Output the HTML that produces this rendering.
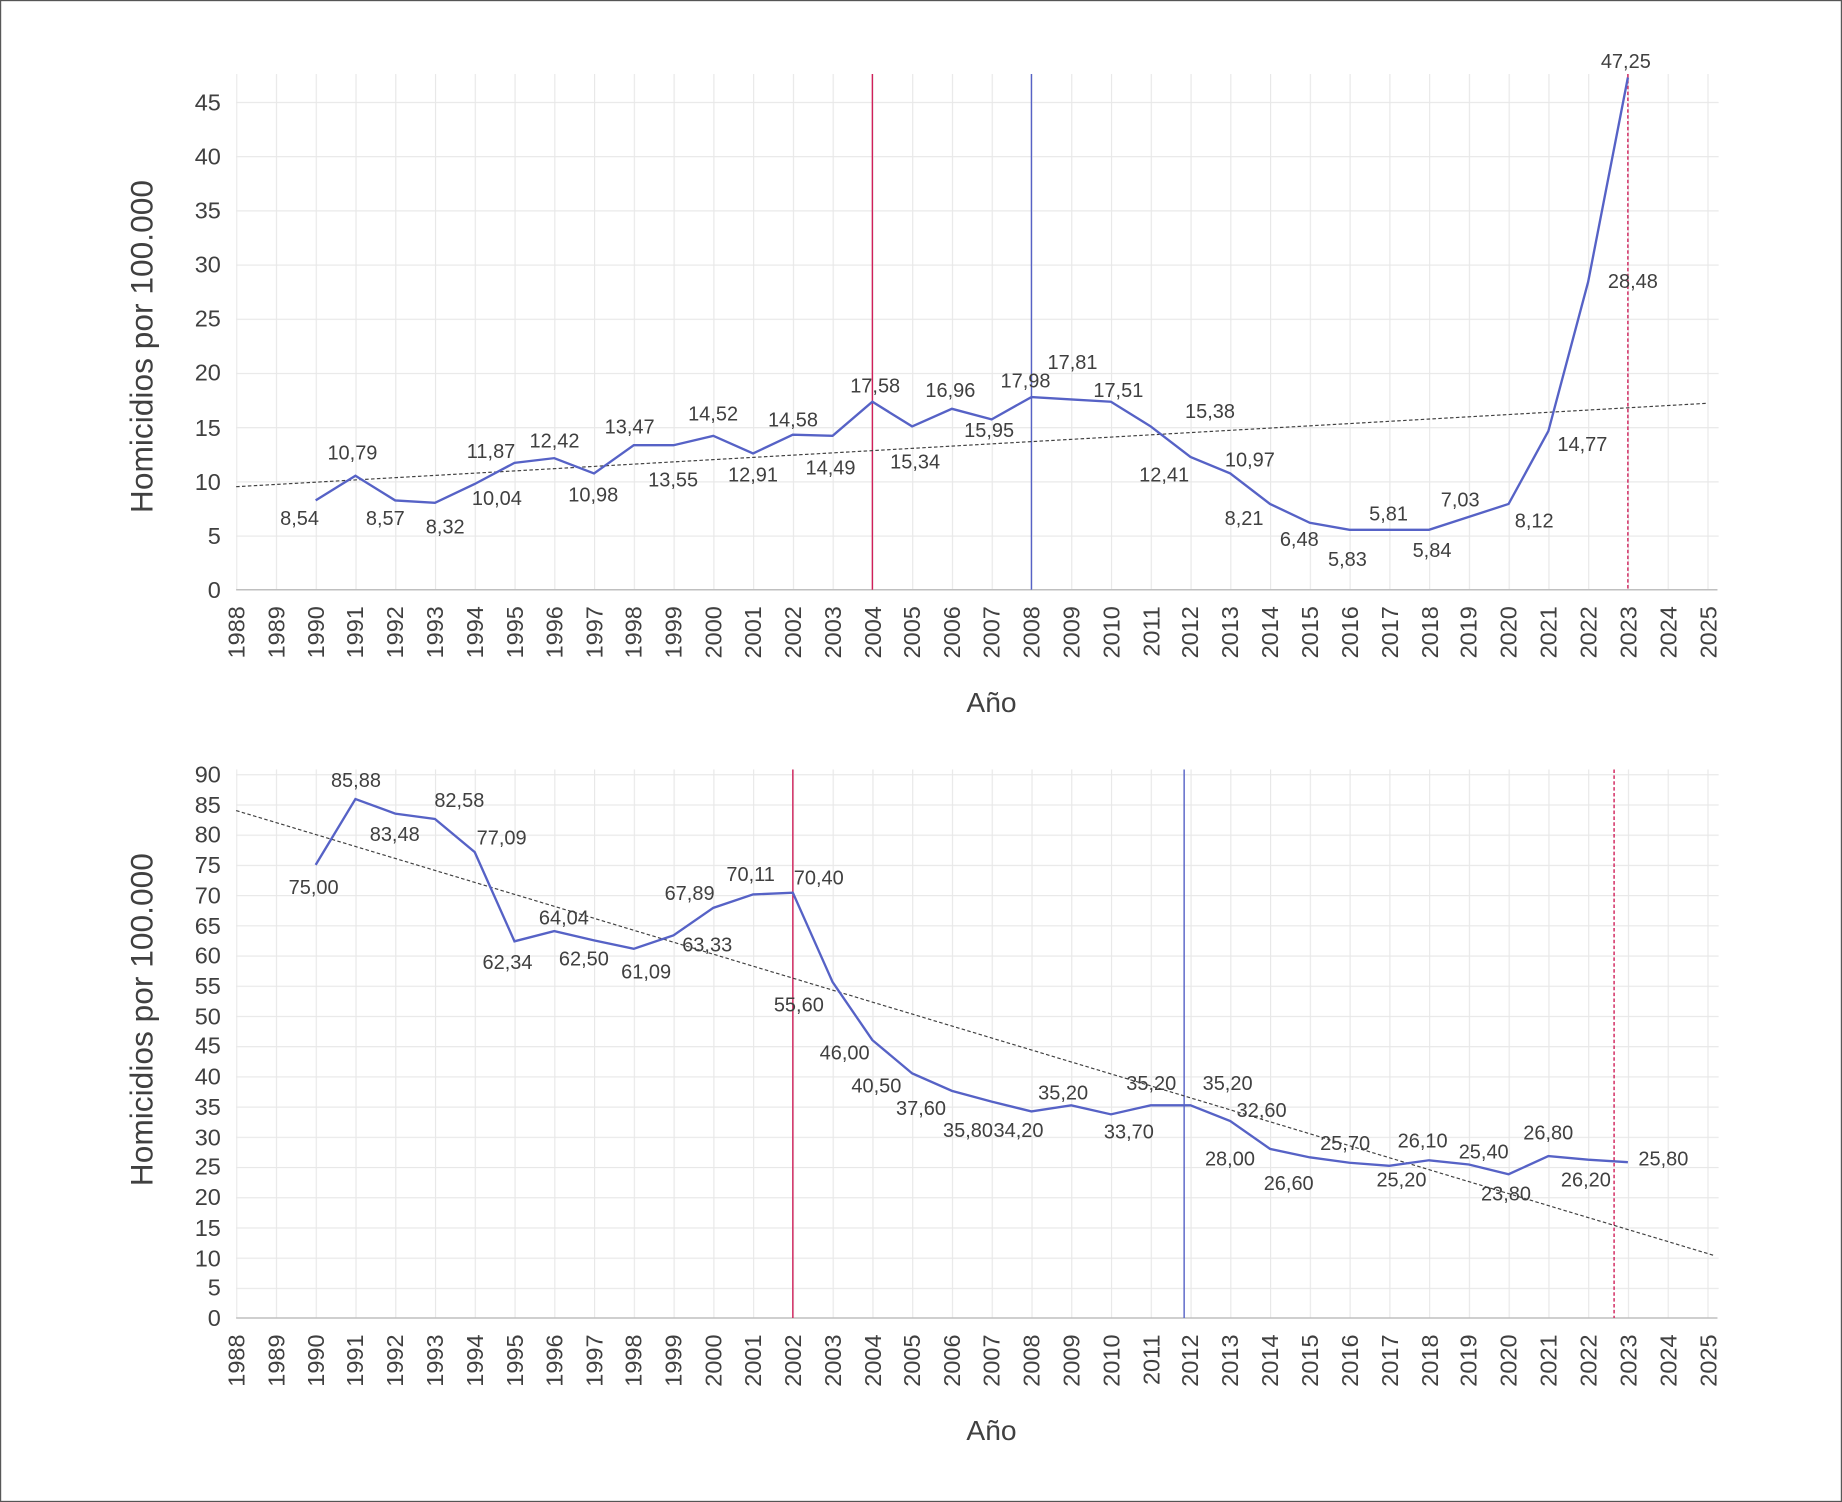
<!DOCTYPE html>
<html><head><meta charset="utf-8"><style>
html,body{margin:0;padding:0;background:#fff}
svg{display:block}
text{font-family:"Liberation Sans",sans-serif;fill:#404040}
</style></head><body>
<svg width="1842" height="1502" viewBox="0 0 1568 1278.6" xmlns="http://www.w3.org/2000/svg">
<defs>
<pattern id="vg" x="201" y="0" width="33.85" height="10" patternUnits="userSpaceOnUse"><line x1="0.5" y1="0" x2="0.5" y2="10" stroke="#e8e8e8" stroke-width="1"/></pattern>
<pattern id="hg1" x="0" y="502" width="10" height="46.14" patternUnits="userSpaceOnUse"><line x1="0" y1="0.5" x2="10" y2="0.5" stroke="#e8e8e8" stroke-width="1"/></pattern>
<pattern id="hg2" x="0" y="1122" width="10" height="25.72" patternUnits="userSpaceOnUse"><line x1="0" y1="0.5" x2="10" y2="0.5" stroke="#e8e8e8" stroke-width="1"/></pattern>
</defs>
<rect x="0.5" y="0.5" width="1567" height="1277.6" fill="#fff" stroke="#555" stroke-width="1"/>

<!-- TOP CHART -->
<rect x="201" y="63" width="1262" height="439" fill="url(#vg)"/>
<rect x="201" y="63" width="1262" height="439" fill="url(#hg1)"/>
<line x1="201" y1="502" x2="1462" y2="502" stroke="#bfbfbf" stroke-width="1.3"/>
<g font-size="20" text-anchor="end">
<text x="188" y="509">0</text><text x="188" y="463">5</text><text x="188" y="417">10</text><text x="188" y="371">15</text><text x="188" y="324">20</text><text x="188" y="278">25</text><text x="188" y="232">30</text><text x="188" y="186">35</text><text x="188" y="140">40</text><text x="188" y="94">45</text>
</g>
<g font-size="20" text-anchor="end">
<text transform="translate(208,516) rotate(-90)">1988</text><text transform="translate(242,516) rotate(-90)">1989</text><text transform="translate(276,516) rotate(-90)">1990</text><text transform="translate(309,516) rotate(-90)">1991</text><text transform="translate(343,516) rotate(-90)">1992</text><text transform="translate(377,516) rotate(-90)">1993</text><text transform="translate(411,516) rotate(-90)">1994</text><text transform="translate(445,516) rotate(-90)">1995</text><text transform="translate(479,516) rotate(-90)">1996</text><text transform="translate(513,516) rotate(-90)">1997</text><text transform="translate(546,516) rotate(-90)">1998</text><text transform="translate(580,516) rotate(-90)">1999</text><text transform="translate(614,516) rotate(-90)">2000</text><text transform="translate(648,516) rotate(-90)">2001</text><text transform="translate(682,516) rotate(-90)">2002</text><text transform="translate(716,516) rotate(-90)">2003</text><text transform="translate(750,516) rotate(-90)">2004</text><text transform="translate(783,516) rotate(-90)">2005</text><text transform="translate(817,516) rotate(-90)">2006</text><text transform="translate(851,516) rotate(-90)">2007</text><text transform="translate(885,516) rotate(-90)">2008</text><text transform="translate(919,516) rotate(-90)">2009</text><text transform="translate(953,516) rotate(-90)">2010</text><text transform="translate(987,516) rotate(-90)">2011</text><text transform="translate(1020,516) rotate(-90)">2012</text><text transform="translate(1054,516) rotate(-90)">2013</text><text transform="translate(1088,516) rotate(-90)">2014</text><text transform="translate(1122,516) rotate(-90)">2015</text><text transform="translate(1156,516) rotate(-90)">2016</text><text transform="translate(1190,516) rotate(-90)">2017</text><text transform="translate(1224,516) rotate(-90)">2018</text><text transform="translate(1257,516) rotate(-90)">2019</text><text transform="translate(1291,516) rotate(-90)">2020</text><text transform="translate(1325,516) rotate(-90)">2021</text><text transform="translate(1359,516) rotate(-90)">2022</text><text transform="translate(1393,516) rotate(-90)">2023</text><text transform="translate(1427,516) rotate(-90)">2024</text><text transform="translate(1461,516) rotate(-90)">2025</text>
</g>
<text x="844" y="606" font-size="24" text-anchor="middle">Año</text>
<text transform="translate(130,295) rotate(-90)" font-size="27" text-anchor="middle">Homicidios por 100.000</text>
<line x1="742.6" y1="63" x2="742.6" y2="502" stroke="#d0205a" stroke-width="1.2"/>
<line x1="878" y1="63" x2="878" y2="502" stroke="#5662c6" stroke-width="1.2"/>
<line x1="1385.75" y1="63" x2="1385.75" y2="502" stroke="#d0205a" stroke-width="1.2" stroke-dasharray="3,2"/>
<line x1="201" y1="414.3" x2="1453.45" y2="343.3" stroke="#404040" stroke-width="1" stroke-dasharray="3,2"/>
<polyline fill="none" stroke="#5662c6" stroke-width="2" points="268.7,426 302.55,405 336.4,426 370.25,428 404.1,412 437.95,394 471.8,390 505.65,403 539.5,379 573.35,379 607.2,371 641.05,386 674.9,370 708.75,371 742.6,342 776.45,363 810.3,348 844.15,357 878,338 911.85,340 945.7,342 979.55,363 1013.4,389 1047.25,403 1081.1,429 1114.95,445 1148.8,451 1182.65,451 1216.5,451 1250.35,440 1284.2,429 1318.05,367 1351.9,240 1385.75,66"/>
<g font-size="17" text-anchor="middle">
<text x="255" y="447">8,54</text><text x="300" y="391">10,79</text><text x="328" y="447">8,57</text><text x="379" y="454">8,32</text><text x="423" y="430">10,04</text><text x="418" y="390">11,87</text><text x="472" y="381">12,42</text><text x="505" y="427">10,98</text><text x="536" y="369">13,47</text><text x="573" y="414">13,55</text><text x="607" y="358">14,52</text><text x="641" y="410">12,91</text><text x="675" y="363">14,58</text><text x="707" y="404">14,49</text><text x="745" y="334">17,58</text><text x="779" y="399">15,34</text><text x="809" y="338">16,96</text><text x="842" y="372">15,95</text><text x="873" y="330">17,98</text><text x="913" y="314">17,81</text><text x="952" y="338">17,51</text><text x="1030" y="356">15,38</text><text x="991" y="410">12,41</text><text x="1064" y="397">10,97</text><text x="1059" y="447">8,21</text><text x="1106" y="465">6,48</text><text x="1147" y="482">5,83</text><text x="1182" y="443">5,81</text><text x="1219" y="474">5,84</text><text x="1243" y="431">7,03</text><text x="1306" y="449">8,12</text><text x="1347" y="384">14,77</text><text x="1390" y="245">28,48</text><text x="1384" y="58">47,25</text>
</g>

<!-- BOTTOM CHART -->
<rect x="201" y="655" width="1262" height="467" fill="url(#vg)"/>
<rect x="201" y="655" width="1262" height="467" fill="url(#hg2)"/>
<line x1="201" y1="1122" x2="1462" y2="1122" stroke="#bfbfbf" stroke-width="1.3"/>
<g font-size="20" text-anchor="end">
<text x="188" y="1129">0</text><text x="188" y="1103">5</text><text x="188" y="1078">10</text><text x="188" y="1052">15</text><text x="188" y="1026">20</text><text x="188" y="1000">25</text><text x="188" y="975">30</text><text x="188" y="949">35</text><text x="188" y="923">40</text><text x="188" y="897">45</text><text x="188" y="872">50</text><text x="188" y="846">55</text><text x="188" y="820">60</text><text x="188" y="795">65</text><text x="188" y="769">70</text><text x="188" y="743">75</text><text x="188" y="717">80</text><text x="188" y="692">85</text><text x="188" y="666">90</text>
</g>
<g font-size="20" text-anchor="end">
<text transform="translate(208,1136) rotate(-90)">1988</text><text transform="translate(242,1136) rotate(-90)">1989</text><text transform="translate(276,1136) rotate(-90)">1990</text><text transform="translate(309,1136) rotate(-90)">1991</text><text transform="translate(343,1136) rotate(-90)">1992</text><text transform="translate(377,1136) rotate(-90)">1993</text><text transform="translate(411,1136) rotate(-90)">1994</text><text transform="translate(445,1136) rotate(-90)">1995</text><text transform="translate(479,1136) rotate(-90)">1996</text><text transform="translate(513,1136) rotate(-90)">1997</text><text transform="translate(546,1136) rotate(-90)">1998</text><text transform="translate(580,1136) rotate(-90)">1999</text><text transform="translate(614,1136) rotate(-90)">2000</text><text transform="translate(648,1136) rotate(-90)">2001</text><text transform="translate(682,1136) rotate(-90)">2002</text><text transform="translate(716,1136) rotate(-90)">2003</text><text transform="translate(750,1136) rotate(-90)">2004</text><text transform="translate(783,1136) rotate(-90)">2005</text><text transform="translate(817,1136) rotate(-90)">2006</text><text transform="translate(851,1136) rotate(-90)">2007</text><text transform="translate(885,1136) rotate(-90)">2008</text><text transform="translate(919,1136) rotate(-90)">2009</text><text transform="translate(953,1136) rotate(-90)">2010</text><text transform="translate(987,1136) rotate(-90)">2011</text><text transform="translate(1020,1136) rotate(-90)">2012</text><text transform="translate(1054,1136) rotate(-90)">2013</text><text transform="translate(1088,1136) rotate(-90)">2014</text><text transform="translate(1122,1136) rotate(-90)">2015</text><text transform="translate(1156,1136) rotate(-90)">2016</text><text transform="translate(1190,1136) rotate(-90)">2017</text><text transform="translate(1224,1136) rotate(-90)">2018</text><text transform="translate(1257,1136) rotate(-90)">2019</text><text transform="translate(1291,1136) rotate(-90)">2020</text><text transform="translate(1325,1136) rotate(-90)">2021</text><text transform="translate(1359,1136) rotate(-90)">2022</text><text transform="translate(1393,1136) rotate(-90)">2023</text><text transform="translate(1427,1136) rotate(-90)">2024</text><text transform="translate(1461,1136) rotate(-90)">2025</text>
</g>
<text x="844" y="1226" font-size="24" text-anchor="middle">Año</text>
<text transform="translate(130,868) rotate(-90)" font-size="27" text-anchor="middle">Homicidios por 100.000</text>
<line x1="674.9" y1="655" x2="674.9" y2="1122" stroke="#d0205a" stroke-width="1.2"/>
<line x1="1008" y1="655" x2="1008" y2="1122" stroke="#5662c6" stroke-width="1.2"/>
<line x1="1374" y1="655" x2="1374" y2="1122" stroke="#d0205a" stroke-width="1.2" stroke-dasharray="3,2"/>
<line x1="201" y1="690" x2="1460" y2="1069" stroke="#404040" stroke-width="1" stroke-dasharray="3,2"/>
<polyline fill="none" stroke="#5662c6" stroke-width="2" points="268.7,736.2 302.55,680.2 336.4,692.6 370.25,697.2 404.1,725.4 437.95,801.3 471.8,792.6 505.65,800.5 539.5,807.7 573.35,796.2 607.2,772.8 641.05,761.4 674.9,759.9 708.75,836 742.6,885.4 776.45,913.7 810.3,928.6 844.15,937.8 878,946.1 911.85,940.9 945.7,948.6 979.55,940.9 1013.4,940.9 1047.25,954.3 1081.1,978 1114.95,985.2 1148.8,989.8 1182.65,992.4 1216.5,987.7 1250.35,991.3 1284.2,999.6 1318.05,984.1 1351.9,987.2 1385.75,989.3"/>
<g font-size="17" text-anchor="middle">
<text x="267" y="761">75,00</text><text x="303" y="670">85,88</text><text x="336" y="716">83,48</text><text x="391" y="687">82,58</text><text x="427" y="719">77,09</text><text x="432" y="825">62,34</text><text x="480" y="787">64,04</text><text x="497" y="822">62,50</text><text x="550" y="833">61,09</text><text x="587" y="766">67,89</text><text x="602" y="810">63,33</text><text x="639" y="750">70,11</text><text x="697" y="753">70,40</text><text x="680" y="861">55,60</text><text x="719" y="902">46,00</text><text x="746" y="930">40,50</text><text x="784" y="949">37,60</text><text x="824" y="968">35,80</text><text x="867" y="968">34,20</text><text x="905" y="936">35,20</text><text x="961" y="969">33,70</text><text x="980" y="928">35,20</text><text x="1045" y="928">35,20</text><text x="1074" y="951">32,60</text><text x="1047" y="992">28,00</text><text x="1097" y="1013">26,60</text><text x="1145" y="979">25,70</text><text x="1211" y="977">26,10</text><text x="1193" y="1010">25,20</text><text x="1263" y="986">25,40</text><text x="1282" y="1022">23,80</text><text x="1318" y="970">26,80</text><text x="1350" y="1010">26,20</text><text x="1416" y="992">25,80</text>
</g>
</svg>
</body></html>
